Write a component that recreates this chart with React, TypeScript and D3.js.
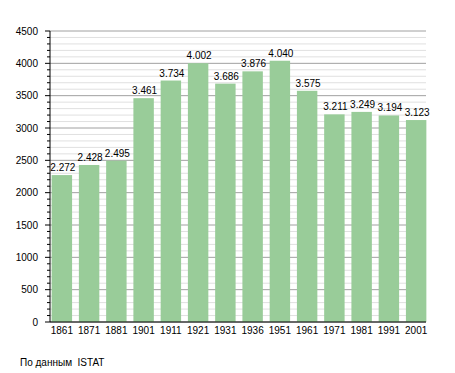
import React from "react";
import * as d3 from "d3";

const years = ["1861","1871","1881","1901","1911","1921","1931","1936","1951","1961","1971","1981","1991","2001"];
const population = [2272, 2428, 2495, 3461, 3734, 4002, 3686, 3876, 4040, 3575, 3211, 3249, 3194, 3123];
const yTicks = [0, 500, 1000, 1500, 2000, 2500, 3000, 3500, 4000, 4500];
const sourceNote = "По данным  ISTAT";

const W = 455, H = 373;
const left = 50, right = 428, gridRight = 426, top = 31, bottom = 322;

export default function App() {
  const x = d3.scaleBand<string>().domain(years).range([left, right]).paddingInner(0.25).paddingOuter(0.06);
  const y = d3.scaleLinear().domain([0, 4500]).range([bottom, top]);
  const minor = d3.range(0, 4501, 100).filter(v => v % 500 !== 0);
  const fmt = (v: number) => d3.format(",")(v).replace(/,/g, ".");
  const font = "'Liberation Sans', Arial, sans-serif";
  return (
    <svg width={W} height={H} style={{ position: "absolute", left: 0, top: 0, background: "#fff" }} fontFamily={font}>
      {minor.map(v => (
        <g key={"m" + v}>
          <line x1={left} x2={gridRight} y1={y(v)} y2={y(v)} stroke="#e0e0e0" strokeWidth={1} />
          <line x1={left - 3} x2={left} y1={y(v)} y2={y(v)} stroke="#000" strokeWidth={1} />
        </g>
      ))}
      {yTicks.map(v => (
        <g key={"t" + v}>
          <line x1={left} x2={gridRight} y1={y(v)} y2={y(v)} stroke="#a0a0a0" strokeWidth={1} />
          <line x1={left - 5} x2={left} y1={y(v)} y2={y(v)} stroke="#000" strokeWidth={1} />
          <text x={left - 12} y={y(v)} dy="0.35em" textAnchor="end" fontSize={10} fill="#000">{v}</text>
        </g>
      ))}
      {years.map((yr, i) => (
        <g key={yr}>
          <rect x={x(yr)!} width={x.bandwidth()} y={y(population[i])} height={bottom - y(population[i])} fill="#99cc99" />
          <text x={x(yr)! + x.bandwidth() / 2 + 1} y={y(population[i]) - 4} textAnchor="middle" fontSize={10} fill="#000">{fmt(population[i])}</text>
          <text x={x(yr)! + x.bandwidth() / 2} y={bottom + 12} textAnchor="middle" fontSize={10} fill="#000">{yr}</text>
        </g>
      ))}
      <line x1={left} x2={left} y1={top} y2={bottom} stroke="#000" strokeWidth={1} />
      <line x1={left} x2={gridRight} y1={bottom} y2={bottom} stroke="#000" strokeWidth={1} />
      <text x={20} y={366} fontSize={10} fill="#000" style={{ whiteSpace: "pre" }}>{sourceNote}</text>
    </svg>
  );
}
